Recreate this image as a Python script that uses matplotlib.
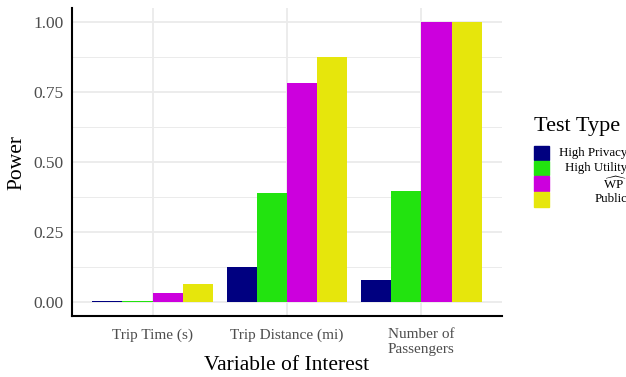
import matplotlib.pyplot as plt
import numpy as np
from matplotlib.patches import Rectangle

## data
variables = ["Trip Time (s)", "Trip Distance (mi)", "Number of\nPassengers"]
test_types = ["High Privacy", "High Utility", r"$\widehat{\mathrm{WP}}$", "Public"]
colors = ["#000080", "#22e30f", "#cc00dd", "#e6e60c"]
high_privacy = [0.002, 0.125, 0.08]
high_utility = [0.002, 0.388, 0.395]
wp_hat = [0.031, 0.781, 1.0]
public = [0.063, 0.875, 1.0]
series = [high_privacy, high_utility, wp_hat, public]

plt.rcParams['font.family'] = ['Liberation Serif', 'DejaVu Serif']
plt.rcParams['mathtext.fontset'] = 'custom'
plt.rcParams['mathtext.rm'] = 'Liberation Serif'
plt.rcParams['mathtext.it'] = 'Liberation Serif:italic'

W, H = 626, 377
fig = plt.figure(figsize=(W / 100, H / 100), dpi=100)
ax = fig.add_axes([72 / W, 1 - 316 / H, 430 / W, 308 / H])

x = np.arange(1, len(variables) + 1)
bw = 0.225
for i, (vals, col) in enumerate(zip(series, colors)):
    ax.bar(x + (i - 1.5) * bw, vals, width=bw, color=col, zorder=3)

ax.set_xlim(0.4, 3.6)
ax.set_ylim(-0.05, 1.05)
ax.set_xticks(x)
ax.set_xticklabels(variables, color="#4d4d4d", fontsize=11, linespacing=1.15)
ax.set_yticks([0, 0.25, 0.5, 0.75, 1.0])
ax.set_yticklabels(["0.00", "0.25", "0.50", "0.75", "1.00"], color="#4d4d4d", fontsize=12.5)
ax.set_yticks([0.125, 0.375, 0.625, 0.875], minor=True)
ax.tick_params(axis="x", which="both", length=0, pad=9)
ax.tick_params(axis="y", which="both", length=0, pad=6)
ax.grid(True, which="major", color="#ebebeb", linewidth=1.3, zorder=0)
ax.grid(True, which="minor", axis="y", color="#ebebeb", linewidth=0.7, zorder=0)
for s in ["top", "right"]:
    ax.spines[s].set_visible(False)
for s in ["left", "bottom"]:
    ax.spines[s].set_linewidth(1.5)
ax.set_axisbelow(True)

ax.set_xlabel("Variable of Interest", fontsize=15.5, va="center")
ax.xaxis.set_label_coords(0.5, (316 - 366) / 308)
ax.set_ylabel("Power", fontsize=15.5, va="center")
ax.yaxis.set_label_coords((17 - 72) / 430, 0.5)

## legend drawn by hand so the labels can be right-aligned like ggplot
fig.text(534 / W, 1 - 126 / H, "Test Type", fontsize=16, va="center", ha="left")
key_h = 15.5
for i, (lab, col) in enumerate(zip(test_types, colors)):
    top = 145 + i * key_h
    fig.patches.append(Rectangle((534 / W, 1 - (top + key_h - 0.5) / H), 15 / W, (key_h - 1) / H,
                                 transform=fig.transFigure, color=col))
    fig.text(627 / W, 1 - (top + key_h / 2) / H, lab, fontsize=9.3, ha="right", va="center")

plt.savefig("out.png", dpi=100)
